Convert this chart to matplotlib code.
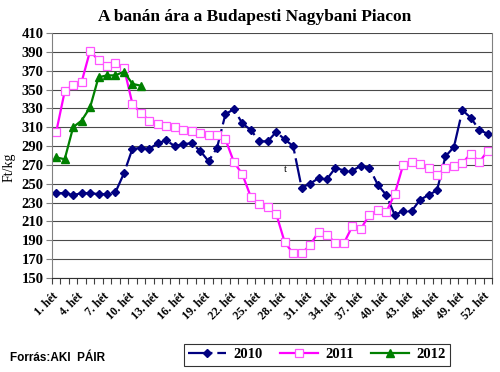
import matplotlib.pyplot as plt
import numpy as np

# weekly banana prices, Ft/kg
prices_2010 = [240, 240, 238, 240, 240, 239, 239, 241, 261, 287,
               288, 287, 293, 296, 290, 292, 293, 285, 274, 288,
               324, 329, 314, 307, 295, 295, 305, 297, 290, 246,
               250, 256, 255, 267, 264, 264, 269, 267, 249, 238,
               217, 221, 221, 233, 238, 243, 279, 289, 328, 320,
               307, 303]
prices_2011 = [305, 348, 355, 358, 391, 381, 375, 378, 373, 335,
               325, 317, 313, 311, 310, 307, 306, 304, 302, 302,
               297, 273, 260, 236, 228, 225, 218, 188, 176, 176,
               185, 199, 196, 187, 187, 205, 202, 217, 222, 220,
               239, 270, 273, 271, 267, 259, 267, 269, 272, 282,
               273, 285]
prices_2012 = [278, 276, 310, 317, 331, 363, 365, 365, 369, 356, 354]

week_labels = [f"{w}. hét" for w in range(1, 53, 3)]
y_ticks = list(range(150, 411, 20))

serif = "Liberation Serif"

fig = plt.figure(figsize=(5, 3.72), dpi=100)
ax = fig.add_axes([0.104, 0.2527, 0.88, 0.6587])

ax.set_axisbelow(True)
ax.yaxis.grid(True, color="#4a4a4a", linewidth=0.8)

x = np.arange(len(prices_2010))
ax.plot(x, prices_2010, color="#000080", linewidth=1.6,
        linestyle=(0, (11, 2.2)), marker="D", markersize=4.2,
        label="2010")
ax.plot(np.arange(len(prices_2011)), prices_2011, color="#ff00ff",
        linewidth=1.6, marker="s", markersize=5.5, markerfacecolor="white",
        markeredgecolor="#ff55ff", markeredgewidth=0.9, label="2011")
ax.plot(np.arange(len(prices_2012)), prices_2012, color="#008000",
        linewidth=1.6, marker="^", markersize=6, label="2012")

ax.text(27.1, 265, "t", fontsize=8, family=serif, ha="center", va="center")

ax.set_xlim(-0.5, len(prices_2010) - 0.5)
ax.set_ylim(150, 410)
ax.set_yticks(y_ticks)
ax.set_yticklabels([str(v) for v in y_ticks], family=serif,
                   fontweight="bold", fontsize=10.5)
ax.tick_params(axis="y", length=4, width=0.8, color="#808080", pad=2)

ax.set_xticks(np.arange(0, 52, 3))
ax.set_xticklabels(week_labels, rotation=45, ha="right", va="center",
                   rotation_mode="anchor", family=serif, fontweight="bold",
                   fontsize=8.5)
ax.set_xticks(np.arange(-0.5, 52, 1), minor=True)
ax.tick_params(axis="x", which="major", length=0, pad=12)
ax.tick_params(axis="x", which="minor", length=4, width=0.8, color="#404040")

ax.spines["top"].set_visible(False)
ax.spines["left"].set_color("#808080")
ax.spines["right"].set_color("#808080")
ax.spines["bottom"].set_color("#303030")

ax.set_ylabel("Ft/kg", family=serif, fontsize=10)
ax.yaxis.set_label_coords(-0.084, 0.45)

fig.text(0.51, 0.953, "A banán ára a Budapesti Nagybani Piacon",
         ha="center", va="center", family=serif, fontweight="bold",
         fontsize=12.5)
fig.text(0.02, 0.037, "Forrás:AKI  PÁIR", ha="left", va="center",
         family="Liberation Sans", fontweight="bold", fontsize=8.5)

leg = fig.legend(loc="center", bbox_to_anchor=(0.634, 0.046), ncol=3,
                 frameon=True, fancybox=False, edgecolor="black",
                 handlelength=2.6, columnspacing=1.2, handletextpad=0.5,
                 borderpad=0.3, prop={"family": serif, "weight": "bold",
                                      "size": 10.5})
leg.get_frame().set_linewidth(0.8)

fig.savefig("out.png", dpi=100)
